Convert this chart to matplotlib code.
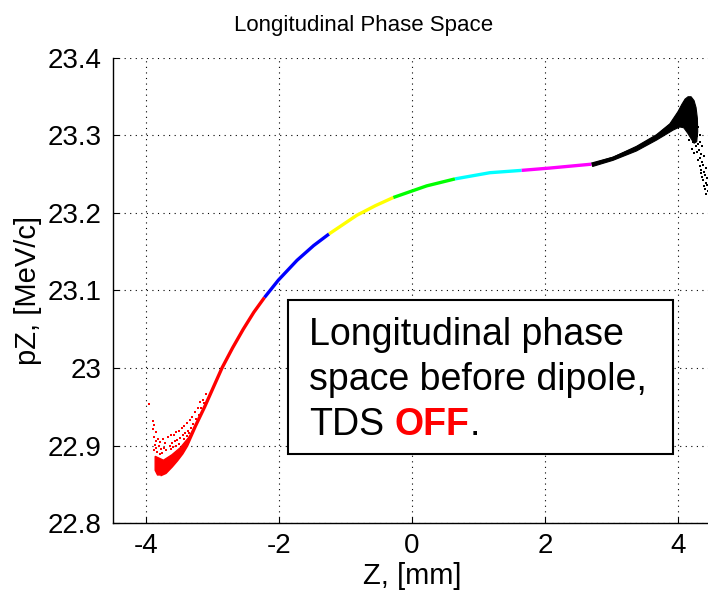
import numpy as np
import matplotlib
matplotlib.use("Agg")
import matplotlib.pyplot as plt
from matplotlib.patches import Rectangle, Polygon

plt.rcParams['font.family'] = ['Liberation Sans', 'DejaVu Sans']
plt.rcParams['axes.unicode_minus'] = False

# centre line of the bunch, one colour per slice
z_red = [-3.79, -3.71, -3.62, -3.54, -3.46, -3.39, -3.26, -3.12, -2.99, -2.86, -2.70, -2.54, -2.38, -2.22]
pz_red = [22.862, 22.865, 22.873, 22.881, 22.890, 22.900, 22.925, 22.950, 22.975, 23.000, 23.026,
          23.050, 23.072, 23.091]
z_blue = [-2.22, -2.01, -1.73, -1.48, -1.248]
pz_blue = [23.091, 23.1135, 23.139, 23.158, 23.173]
z_yellow = [-1.248, -0.832, -0.55, -0.281]
pz_yellow = [23.173, 23.197, 23.2095, 23.220]
z_green = [-0.281, 0.221, 0.647]
pz_green = [23.220, 23.235, 23.244]
z_cyan = [0.647, 1.173, 1.650]
pz_cyan = [23.244, 23.252, 23.255]
z_magenta = [1.650, 2.075, 2.702]
pz_magenta = [23.255, 23.258, 23.263]
z_black = [2.702, 3.027, 3.379, 3.68, 3.93, 4.13]
pz_black = [23.263, 23.2706, 23.2835, 23.298, 23.316, 23.345]

# dense red head (outline)
z_red_cloud = [-3.83, -3.79, -3.71, -3.62, -3.54, -3.46, -3.39, -3.26,
               -3.364, -3.489, -3.614, -3.74, -3.865, -3.865]
pz_red_cloud = [22.862, 22.862, 22.865, 22.873, 22.881, 22.890, 22.900, 22.925,
                22.910, 22.897, 22.888, 22.881, 22.886, 22.868]
# loose red particles
z_red_dots = [-3.955, -3.902, -3.893, -3.884, -3.877, -3.871, -3.886, -3.853, -3.846, -3.858,
              -3.827, -3.814, -3.831, -3.792, -3.775, -3.786, -3.748, -3.733, -3.756, -3.712,
              -3.695, -3.667, -3.648, -3.626, -3.611, -3.631, -3.588, -3.572, -3.597, -3.548,
              -3.531, -3.554, -3.507, -3.494, -3.512, -3.466, -3.451, -3.428, -3.411, -3.433,
              -3.384, -3.372, -3.391, -3.347, -3.331, -3.352, -3.306, -3.293, -3.262, -3.251,
              -3.224, -3.213, -3.185, -3.172, -3.146, -3.131, -3.102]
pz_red_dots = [22.954, 22.931, 22.921, 22.926, 22.911, 22.901, 22.894, 22.917, 22.906, 22.897,
               22.909, 22.900, 22.891, 22.905, 22.896, 22.889, 22.908, 22.897, 22.890, 22.903,
               22.894, 22.911, 22.899, 22.914, 22.903, 22.895, 22.913, 22.906, 22.898, 22.917,
               22.907, 22.900, 22.919, 22.910, 22.902, 22.922, 22.913, 22.925, 22.916, 22.909,
               22.929, 22.919, 22.912, 22.933, 22.923, 22.916, 22.937, 22.928, 22.943, 22.934,
               22.949, 22.940, 22.956, 22.948, 22.959, 22.955, 22.966]

# dense black tail (outline)
z_black_cloud = [2.717, 3.027, 3.378, 3.679, 3.880, 4.005, 4.06, 4.11, 4.155, 4.20, 4.245, 4.275,
                 4.295, 4.30, 4.285, 4.245, 4.20, 4.15, 4.09, 4.03, 3.93, 3.679, 3.378, 3.027, 2.717]
pz_black_cloud = [23.264, 23.272, 23.286, 23.301, 23.315, 23.331, 23.340, 23.347, 23.350, 23.350,
                  23.345, 23.336, 23.322, 23.305, 23.292, 23.290, 23.296, 23.303, 23.310, 23.311,
                  23.307, 23.294, 23.280, 23.268, 23.260]
# loose black particles
z_black_dots = [4.182, 4.176, 4.224, 4.215, 4.228, 4.211, 4.262, 4.255, 4.268, 4.249,
                4.302, 4.294, 4.309, 4.288, 4.305, 4.331, 4.338, 4.324, 4.341, 4.327,
                4.346, 4.362, 4.355, 4.369, 4.351, 4.365, 4.392, 4.384, 4.399, 4.381,
                4.396, 4.423, 4.414, 4.428, 4.409, 4.421, 4.446, 4.439, 4.448]
pz_black_dots = [23.306, 23.294, 23.311, 23.300, 23.291, 23.283, 23.306, 23.294, 23.286, 23.277,
                 23.311, 23.299, 23.289, 23.279, 23.268, 23.301, 23.291, 23.281, 23.271, 23.261,
                 23.252, 23.286, 23.276, 23.266, 23.256, 23.246, 23.273, 23.262, 23.253, 23.243,
                 23.235, 23.258, 23.249, 23.239, 23.231, 23.224, 23.245, 23.236, 23.228]

xticks = [-4, -2, 0, 2, 4]
yticks = [22.8, 22.9, 23.0, 23.1, 23.2, 23.3, 23.4]
ytick_labels = ["22.8", "22.9", "23", "23.1", "23.2", "23.3", "23.4"]

fig = plt.figure(figsize=(7.08, 5.96), dpi=100)
ax = fig.add_axes([113 / 708, 1 - 523 / 596, 598 / 708, 465 / 596])

segs = [(z_red, pz_red, "#ff0000"), (z_blue, pz_blue, "#0000ff"), (z_yellow, pz_yellow, "#ffff00"),
        (z_green, pz_green, "#00ff00"), (z_cyan, pz_cyan, "#00ffff"),
        (z_magenta, pz_magenta, "#ff00ff"), (z_black, pz_black, "#000000")]
for zz, pp, c in segs:
    ax.plot(zz, pp, color=c, lw=2.4, solid_capstyle="butt", solid_joinstyle="round", zorder=3)

ax.add_patch(Polygon(np.column_stack([z_red_cloud, pz_red_cloud]), closed=True,
                     facecolor="#ff0000", edgecolor="#ff0000", lw=1.0, zorder=3))
ax.add_patch(Polygon(np.column_stack([z_black_cloud, pz_black_cloud]), closed=True,
                     facecolor="black", edgecolor="black", lw=0.8, zorder=3))
ax.scatter(z_red_dots, pz_red_dots, s=3.5, color="#ff0000", marker="s", lw=0, zorder=3)
ax.scatter(z_black_dots, pz_black_dots, s=3.5, color="black", marker="s", lw=0, zorder=3)

ax.set_xlim(-4.5, 4.5)
ax.set_ylim(22.8, 23.4)
ax.set_xticks(xticks)
ax.set_yticks(yticks)
ax.set_yticklabels(ytick_labels)
ax.grid(True, color="black", linestyle=(0, (1, 4)), lw=0.8)
ax.tick_params(direction="in", length=4, width=0.8, labelsize=20)
ax.tick_params(axis="y", pad=8)
ax.tick_params(axis="x", pad=7)
for s in ["top", "right"]:
    ax.spines[s].set_visible(False)
for s in ["left", "bottom"]:
    ax.spines[s].set_linewidth(1.0)

ax.set_xlabel("Z, [mm]", fontsize=21, labelpad=2)
ax.set_ylabel("pZ, [MeV/c]", fontsize=21, labelpad=4)
fig.text(364 / 708, 1 - 25 / 596, "Longitudinal Phase Space", fontsize=16,
         ha="center", va="center")

# annotation box
ax.add_patch(Rectangle((0.2926, 0.148), 0.6439, 0.3316, transform=ax.transAxes,
                       facecolor="white", edgecolor="black", lw=1.5, zorder=5))
fs = 27
ax.text(0.3278, 0.3828, "Longitudinal phase", transform=ax.transAxes, fontsize=fs,
        va="baseline", zorder=6)
ax.text(0.3278, 0.286, "space before dipole,", transform=ax.transAxes, fontsize=fs,
        va="baseline", zorder=6)
t1 = ax.text(0.3278, 0.189, "TDS", transform=ax.transAxes, fontsize=fs,
             va="baseline", zorder=6)
t2 = ax.annotate("OFF", xy=(1, 0), xycoords=t1, xytext=(7.5, 0), textcoords="offset points",
                 fontsize=fs, fontweight="bold", color="#ff0000", va="bottom", zorder=6)
ax.annotate(".", xy=(1, 0), xycoords=t2, fontsize=fs, va="bottom", zorder=6)

fig.savefig("out.png", dpi=100)
